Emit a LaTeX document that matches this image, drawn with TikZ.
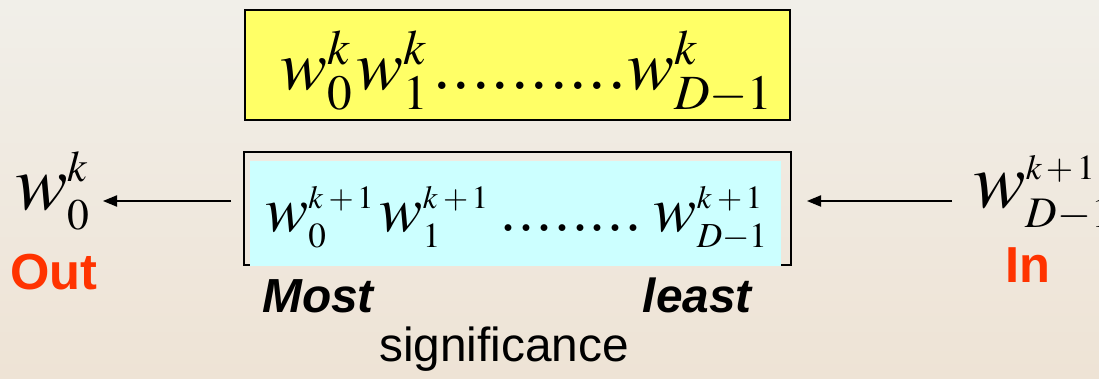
\documentclass[tikz,border=0pt]{standalone}
\usepackage{mathptmx}
\usepackage[no-math]{fontspec}
\setmainfont{Liberation Serif}
\setsansfont{Liberation Sans}
\usetikzlibrary{arrows.meta, positioning}
\definecolor{bgtop}{HTML}{F1EFE9}
\definecolor{bgbot}{HTML}{EEE3D5}
\definecolor{regyellow}{HTML}{FFFF66}
\definecolor{regcyan}{HTML}{CCFFFF}
\definecolor{iored}{HTML}{FF3300}
% script sizes of the large formulas
\DeclareMathSizes{50}{50}{35}{25}
\DeclareMathSizes{46}{46}{25}{23}
\DeclareMathSizes{56}{56}{31}{25}

\begin{document}
\begin{tikzpicture}[x=0.025cm, y=-0.025cm,
  regbox/.style={rectangle, draw=black, line width=0.9pt, inner sep=0pt},
  oldtxt/.style={font=\fontsize{50}{56}\selectfont, inner sep=0pt},
  newtxt/.style={font=\fontsize{46}{52}\selectfont, inner sep=0pt},
  sidetxt/.style={font=\fontsize{56}{62}\selectfont, inner sep=0pt},
  iolabel/.style={font=\sffamily\bfseries\fontsize{36}{40}\selectfont, text=iored, inner sep=0pt},
  sigtxt/.style={font=\sffamily\fontsize{34}{40}\selectfont, inner sep=0pt},
  shiftarrow/.style={-{Triangle[length=10pt,width=8pt]}, line width=0.9pt},
]
\useasboundingbox (0,0) rectangle (1099,379);
\fill[top color=bgtop, bottom color=bgbot] (0,0) rectangle (1099,379);

% register before the shift
\node[regbox, fill=regyellow, minimum width=13.625cm, minimum height=2.75cm] (oldreg) at (517.5,65) {};
\node[oldtxt, anchor=base west] (oldword) at (280,90) {$w_0^k\mkern1mu w_1^k\mkern1mu..........w^k_{D-1}$};

% register after the shift
\node[regbox, minimum width=13.675cm, minimum height=2.825cm] (newreg) at (517.5,208.5) {};
\node[fill=regcyan, inner sep=0pt, minimum width=13.275cm, minimum height=2.625cm] (newfill) at (515.5,213.5) {};
\node[newtxt, anchor=base west] (newword) at (265,232)
  {$w_0^{\scriptscriptstyle k\mkern3mu+\mkern2mu1}\mkern1.5mu w_1^{\scriptscriptstyle k\mkern3mu+\mkern2mu1}\mkern3mu........\mkern3mu w^{\scriptscriptstyle k\mkern3mu+\mkern2mu1}_{D-1}$};

% bits leaving and entering
\node[sidetxt, anchor=base west] (outword) at (15,210) {$w_0^k$};
\node[sidetxt, anchor=base west] (inword) at (973,208) {$w^{\scriptscriptstyle k\mkern2mu+\mkern2mu1}_{D-1}$};
\node[iolabel, anchor=base west] (outlbl) at (10,290) {Out};
\node[iolabel, anchor=base west] (inlbl) at (1005,283) {In};

\coordinate (outtail) at (231,201);
\coordinate (outtip) at (103,201);
\coordinate (intail) at (952,201);
\coordinate (intip) at (807,201);
\draw[shiftarrow] (outtail) -- (outtip);
\draw[shiftarrow] (intail) -- (intip);

% order of significance
\node[sigtxt, font=\sffamily\bfseries\itshape\fontsize{34}{40}\selectfont, anchor=base west] (mostlbl) at (262,313) {Most};
\node[sigtxt, font=\sffamily\bfseries\itshape\fontsize{34}{40}\selectfont, anchor=base east] (leastlbl) at (752,313) {least};
\node[sigtxt, anchor=base] (siglbl) at (504,362) {significance};
\end{tikzpicture}
\end{document}
